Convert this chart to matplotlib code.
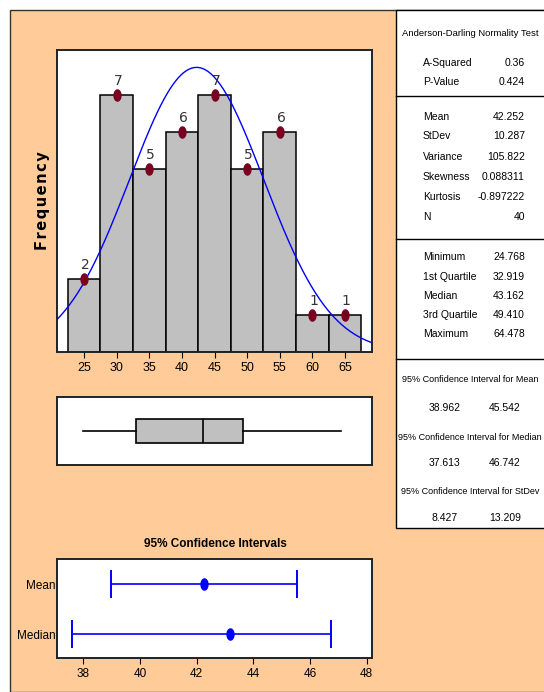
import matplotlib
matplotlib.use("Agg")
import matplotlib.pyplot as plt
import numpy as np
from matplotlib.patches import Rectangle
from matplotlib.lines import Line2D

# histogram bins (midpoints) and counts
bin_mids = [25, 30, 35, 40, 45, 50, 55, 60, 65]
counts = [2, 7, 5, 6, 7, 5, 6, 1, 1]
bin_width = 5

# summary statistics
ad_labels = ["A-Squared", "P-Value"]
ad_values = ["0.36", "0.424"]
moment_labels = ["Mean", "StDev", "Variance", "Skewness", "Kurtosis", "N"]
moment_values = ["42.252", "10.287", "105.822", "0.088311", "-0.897222", "40"]
quart_labels = ["Minimum", "1st Quartile", "Median", "3rd Quartile", "Maximum"]
quart_values = [24.768, 32.919, 43.162, 49.410, 64.478]
ci_titles = ["95% Confidence Interval for Mean",
             "95% Confidence Interval for Median",
             "95% Confidence Interval for StDev"]
ci_lo = ["38.962", "37.613", "8.427"]
ci_hi = ["45.542", "46.742", "13.209"]

mean, sd, n = 42.252, 10.287, 40
mean_ci = (38.962, 45.542)
median, median_ci = 43.162, (37.613, 46.742)

ORANGE = "#FFCC99"
BAR = "#C0C0C0"
DOT = "#7A0020"
BLUE = "#0000FF"
NARROW = ["Liberation Sans Narrow", "Liberation Sans", "DejaVu Sans"]

W, H = 544, 692
plt.rcParams["font.family"] = NARROW

fig = plt.figure(figsize=(W / 100, H / 100), dpi=100)
fig.patch.set_facecolor("white")


def fx(px):
    return px / W


def fy(py):
    return 1 - py / H


def px_axes(x0, y0, x1, y1):
    return fig.add_axes([fx(x0), fy(y1), fx(x1) - fx(x0), fy(y0) - fy(y1)])


def frame(a):
    for s in a.spines.values():
        s.set_linewidth(1.4)
        s.set_color("#222222")


# peach background panel with its border
fig.add_artist(Rectangle((fx(10), 0), 1, fy(10), transform=fig.transFigure,
                         facecolor=ORANGE, edgecolor="#333333", lw=1.0, zorder=0))

# statistics box on the right
fig.add_artist(Rectangle((fx(396), fy(528)), 1, fy(10) - fy(528), transform=fig.transFigure,
                         facecolor="white", edgecolor="black", lw=1.0, zorder=1))
for yy in (96, 239, 359):
    fig.add_artist(Line2D([fx(396), 1], [fy(yy), fy(yy)], transform=fig.transFigure,
                          color="black", lw=1.0, zorder=2))

# --- histogram with fitted normal curve
ax = px_axes(57, 50, 372, 352)
ax.bar(bin_mids, counts, width=bin_width, color=BAR, edgecolor="black", lw=1.1, zorder=2)
xs = np.linspace(20.8, 69.2, 300)
pdf = n * bin_width * np.exp(-0.5 * ((xs - mean) / sd) ** 2) / (sd * np.sqrt(2 * np.pi))
ax.plot(xs, pdf, color=BLUE, lw=1.0, zorder=3)
theta = np.linspace(0, 2 * np.pi, 40)
ellipse = np.column_stack([0.62 * np.cos(theta), np.sin(theta)])
ax.plot(bin_mids, counts, ls="none", marker=ellipse, ms=8, color=DOT, zorder=4)
for xm, c in zip(bin_mids, counts):
    ax.annotate(str(c), (xm, c), xytext=(1, 5), textcoords="offset points",
                ha="center", va="bottom", fontsize=10, color="#333333",
                family="DejaVu Sans", zorder=5)
ax.set_xlim(20.83, 69.17)
ax.set_ylim(0, 8.23)
ax.set_xticks(bin_mids)
ax.set_yticks([])
ax.tick_params(axis="x", length=4, labelsize=9, pad=3)
ax.set_ylabel("F\u200ar\u200ae\u200aq\u200au\u200ae\u200an\u200ac\u200ay", fontsize=10.5,
              fontweight="bold", family="DejaVu Sans", labelpad=5)
frame(ax)

# --- boxplot on the same scale
bx = px_axes(57, 397, 372, 465)
q_min, q1, q_med, q3, q_max = quart_values
bx.bxp([{"whislo": q_min, "q1": q1, "med": q_med, "q3": q3, "whishi": q_max,
         "fliers": []}], positions=[0], widths=0.35, orientation="horizontal",
       showcaps=False, patch_artist=True,
       boxprops=dict(facecolor=BAR, edgecolor="black", lw=1.2),
       medianprops=dict(color="black", lw=1.2),
       whiskerprops=dict(color="black", lw=1.2))
bx.set_xlim(20.83, 69.17)
bx.set_ylim(-0.5, 0.5)
bx.set_xticks([])
bx.set_yticks([])
frame(bx)

# --- confidence interval plot
fig.text(fx(215), fy(544), "95% Confidence Intervals", ha="center", va="center",
         fontsize=8.5, fontweight="bold")
cx = px_axes(57, 559, 372, 658)
rows = {"Mean": (2, mean, mean_ci), "Median": (1, median, median_ci)}
for name, (yy, centre, (lo, hi)) in rows.items():
    cx.errorbar(centre, yy, xerr=[[centre - lo], [hi - centre]], fmt="none",
                ecolor=BLUE, elinewidth=1.2, capsize=10, capthick=1.4)
    cx.plot(centre, yy, ls="none", marker=ellipse, ms=8, color=BLUE)
cx.set_xlim(37.07, 48.19)
cx.set_ylim(0.52, 2.51)
cx.set_xticks([38, 40, 42, 44, 46, 48])
cx.set_yticks([2, 1])
cx.set_yticklabels(["Mean", "Median"])
cx.tick_params(axis="x", length=4, labelsize=8.5, pad=3)
cx.tick_params(axis="y", length=0, labelsize=8.5, pad=1)
frame(cx)

# --- text of the statistics box
fs = 7.5
fig.text(fx(470), fy(33), "Anderson-Darling Normality Test", ha="center", va="center",
         fontsize=6.8)
lab_x, val_x = fx(423), fx(525)
ad_y = [62.7, 81.7]
moment_y = [116.7, 135.7, 156.7, 176.7, 196.7, 216.7]
quart_y = [257.3, 276.7, 295.7, 315.3, 334.3]
for labels, values, ys in ((ad_labels, ad_values, ad_y),
                           (moment_labels, moment_values, moment_y),
                           (quart_labels, [f"{v:.3f}" for v in quart_values], quart_y)):
    for lab, val, yy in zip(labels, values, ys):
        fig.text(lab_x, fy(yy), lab, ha="left", va="center", fontsize=fs)
        fig.text(val_x, fy(yy), val, ha="right", va="center", fontsize=fs)

title_y = [380, 437, 492]
value_y = [408, 463, 518]
for title, lo, hi, ty, vy in zip(ci_titles, ci_lo, ci_hi, title_y, value_y):
    fig.text(fx(470), fy(ty), title, ha="center", va="center", fontsize=6.5)
    fig.text(fx(445), fy(vy), lo, ha="center", va="center", fontsize=fs)
    fig.text(fx(505), fy(vy), hi, ha="center", va="center", fontsize=fs)

fig.savefig("out.png", dpi=100, facecolor=fig.get_facecolor())
